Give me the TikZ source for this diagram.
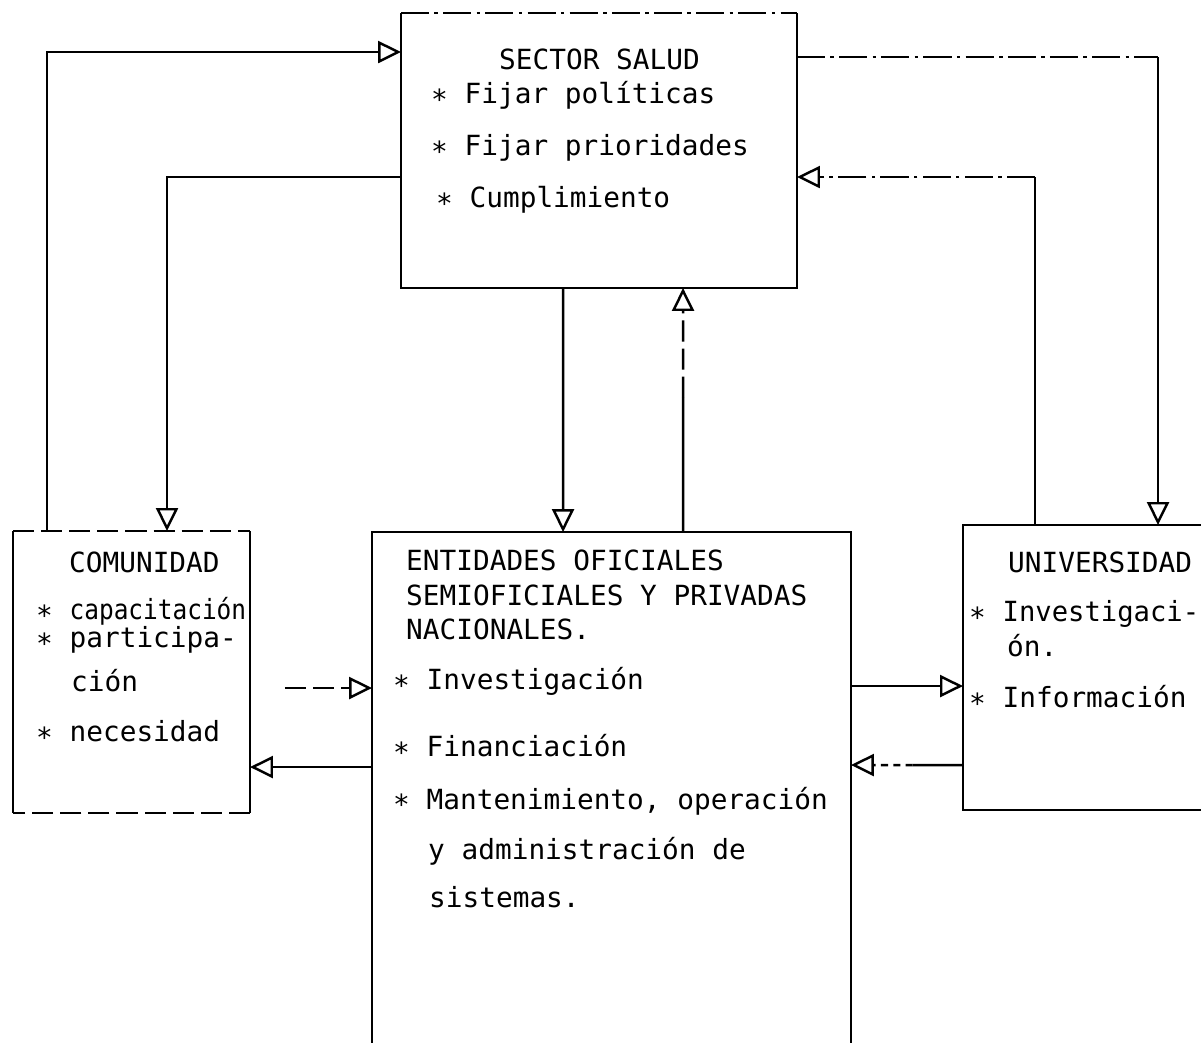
\documentclass[tikz,border=0pt]{standalone}
\usepackage{fontspec}
\setmonofont{DejaVu Sans Mono}
\usetikzlibrary{arrows.meta,calc}
\newcommand{\bul}{\raisebox{-0.35ex}{*}}
\begin{document}
\begin{tikzpicture}[x=0.02cm,y=-0.02cm,
  line width=1.4pt,
  box/.style={rectangle, inner sep=0pt, outer sep=0pt, draw=none},
  txt/.style={anchor=base west, inner sep=0pt, font=\ttfamily\fontsize{15.8}{18}\selectfont},
  conn/.style={-{Triangle[open, length=0.46cm, width=0.44cm, line width=1.4pt]}},
  dd/.style={dash pattern=on 16pt off 3pt on 2pt off 3pt},
  dsh/.style={dash pattern=on 12pt off 4pt}]
\useasboundingbox (0,0) rectangle (1201,1043);
\clip (0,0) rectangle (1201,1043);
\fill[white] (0,0) rectangle (1201,1043);

% boxes
\node[box, minimum width=7.92cm, minimum height=5.5cm] (sec) at (599,150.5) {};
\node[box, minimum width=4.74cm, minimum height=5.64cm] (com) at (131.5,672) {};
\node[box, minimum width=9.58cm, minimum height=11cm] (ent) at (611.5,807) {};
\node[box, minimum width=5.6cm, minimum height=5.7cm] (uni) at (1103,667.5) {};

\draw[dd] (sec.north west) -- (sec.north east);
\draw (sec.north east) -- (sec.south east) -- (sec.south west) -- (sec.north west);
\draw[dsh] (com.north west) -- (com.north east);
\draw (com.north east) -- (com.south east);
\draw[dsh] (com.south east) -- (com.south west);
\draw (com.south west) -- (com.north west);
\draw (ent.north west) -- (ent.north east) -- (ent.south east) -- (ent.south west) -- cycle;
\draw (uni.north west) -- (uni.north east) -- (uni.south east) -- (uni.south west) -- cycle;

% texts
\node[txt] (t1) at (498,70) {SECTOR SALUD};
\node[txt] (t2) at (430,104) {\bul{} Fijar políticas};
\node[txt] (t3) at (430,156) {\bul{} Fijar prioridades};
\node[txt] (t4) at (435,208) {\bul{} Cumplimiento};

\node[txt] (t5) at (68,573) {COMUNIDAD};
\node[txt] (t6) at (35,620) {\bul{} \scalebox{0.88}[1]{capacitación}};
\node[txt] (t7) at (35,648) {\bul{} participa-};
\node[txt] (t8) at (70,692) {ción};
\node[txt] (t9) at (35,742) {\bul{} necesidad};

\node[txt] (e1) at (405,571) {ENTIDADES OFICIALES};
\node[txt] (e2) at (405,606) {SEMIOFICIALES Y PRIVADAS};
\node[txt] (e3) at (405,640) {NACIONALES.};
\node[txt] (e4) at (392,690) {\bul{} Investigación};
\node[txt] (e5) at (392,757) {\bul{} Financiación};
\node[txt] (e6) at (392,809) {\bul{} Mantenimiento, operación};
\node[txt] (e7) at (427,859) {y administración de};
\node[txt] (e8) at (428,908) {sistemas.};

\node[txt] (u1) at (1007,573) {UNIVERSIDAD};
\node[txt] (u2) at (968,622) {\bul{} \scalebox{0.98}[1]{Investigaci-}};
\node[txt] (u3) at (1006,657) {ón.};
\node[txt] (u4) at (968,708) {\bul{} Información};

% connectors
\draw[conn] ($(com.north west)+(34,0)$) |- ($(sec.north west)+(0,39)$);
\draw[conn] ($(sec.north west)+(0,164)$) -| ($(com.north west)+(154,0)$);
\draw[conn] ($(sec.south west)+(162,0)$) -- ($(ent.north west)+(191,0)$);

\coordinate (a4) at ($(ent.north west)+(311,0)$);
\coordinate (b4) at ($(sec.south west)+(282,0)$);
\coordinate (m4) at ($(a4)!0.55!(b4)$);
\draw (a4) -- (m4);
\draw[conn, dsh] (m4) -- (b4);

\coordinate (a5) at ($(sec.north east)+(0,44)$);
\coordinate (b5) at ($(uni.north west)+(195,0)$);
\draw[dd] (a5) -- (a5 -| b5);
\draw[conn] (a5 -| b5) -- (b5);

\coordinate (a6) at ($(uni.north west)+(72,0)$);
\coordinate (b6) at ($(sec.north east)+(0,164)$);
\draw (a6) -- (a6 |- b6);
\draw[conn, dd] (a6 |- b6) -- (b6);

\coordinate (a7) at ($(com.north east)+(35,157)$);
\draw[conn, dsh] (a7) -- (a7 -| ent.west);
\coordinate (a8) at ($(ent.north west)+(0,235)$);
\draw[conn] (a8) -- (a8 -| com.east);
\coordinate (a9) at ($(ent.north east)+(0,154)$);
\draw[conn] (a9) -- (a9 -| uni.west);

\coordinate (a10) at ($(uni.north west)+(0,240)$);
\coordinate (b10) at (a10 -| ent.east);
\coordinate (m10) at ($(a10)!0.45!(b10)$);
\draw (a10) -- (m10);
\draw[conn, dash pattern=on 4pt off 3pt] (m10) -- (b10);
\end{tikzpicture}
\end{document}
